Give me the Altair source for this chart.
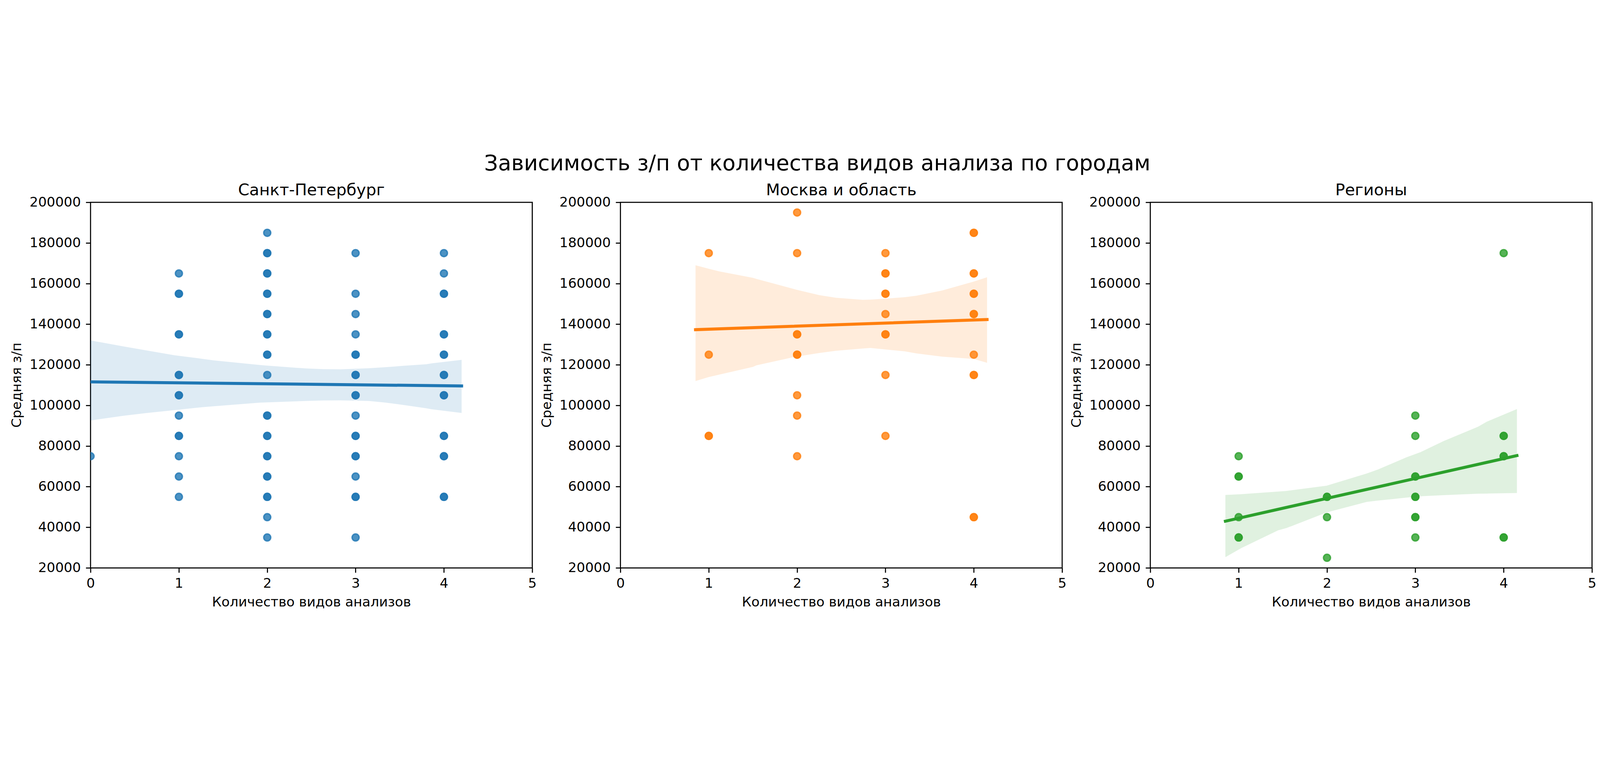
import altair as alt
import pandas as pd

FONT = "DejaVu Sans"
suptitle = "Зависимость з/п от количества видов анализа по городам"
cities = ["Санкт-Петербург", "Москва и область", "Регионы"]
colors = ["#1f77b4", "#ff7f0e", "#2ca02c"]
x_title = "Количество видов анализов"
y_title = "Средняя з/п"
x_ticks = [0, 1, 2, 3, 4, 5]
y_ticks = [20000, 40000, 60000, 80000, 100000, 120000, 140000, 160000, 180000, 200000]

# scatter points: x value, salary, number of overlapping observations
spb_x = [0] + [1] * 10 + [2] * 15 + [3] * 13 + [4] * 10
spb_y = [75000,
         165000, 155000, 135000, 115000, 105000, 95000, 85000, 75000, 65000, 55000,
         185000, 175000, 165000, 155000, 145000, 135000, 125000, 115000, 95000, 85000, 75000, 65000, 55000, 45000, 35000,
         175000, 155000, 145000, 135000, 125000, 115000, 105000, 95000, 85000, 75000, 65000, 55000, 35000,
         175000, 165000, 155000, 135000, 125000, 115000, 105000, 85000, 75000, 55000]
spb_n = [1,
         1, 2, 2, 2, 2, 1, 2, 1, 1, 1,
         1, 2, 2, 2, 2, 2, 2, 1, 2, 2, 2, 2, 2, 1, 1,
         1, 1, 1, 1, 2, 2, 2, 1, 2, 2, 1, 2, 1,
         1, 1, 2, 2, 2, 2, 2, 2, 2, 2]

msk_x = [1] * 3 + [2] * 7 + [3] * 7 + [4] * 7
msk_y = [175000, 125000, 85000,
         195000, 175000, 135000, 125000, 105000, 95000, 75000,
         175000, 165000, 155000, 145000, 135000, 115000, 85000,
         185000, 165000, 155000, 145000, 125000, 115000, 45000]
msk_n = [1, 1, 2,
         1, 1, 2, 2, 1, 1, 1,
         1, 2, 2, 1, 2, 1, 1,
         2, 2, 2, 2, 1, 2, 2]

reg_x = [1] * 4 + [2] * 3 + [3] * 6 + [4] * 4
reg_y = [75000, 65000, 45000, 35000,
         55000, 45000, 25000,
         95000, 85000, 65000, 55000, 45000, 35000,
         175000, 85000, 75000, 35000]
reg_n = [1, 2, 1, 2,
         2, 1, 1,
         1, 1, 2, 2, 2, 1,
         1, 2, 2, 2]

# fitted regression line
spb_fit_x = [0.0, 4.2]
spb_fit_y = [111600, 109600]
msk_fit_x = [0.85, 4.15]
msk_fit_y = [137300, 142300]
reg_fit_x = [0.85, 4.15]
reg_fit_y = [43000, 75300]

# confidence band
spb_band_x = [0.0, 0.37, 0.63, 0.95, 1.275, 1.40, 1.92, 1.985, 2.44, 2.63, 2.83, 3.15, 3.34, 3.54, 3.80, 3.86, 4.2]
spb_band_lo = [92600, 94900, 96250, 97700, 99170, 99600, 101390, 101500, 102200, 102440, 102500, 102230, 101400, 100230, 98600, 98130, 96300]
spb_band_hi = [132000, 129080, 127100, 124680, 122900, 122170, 119900, 119660, 118190, 117900, 117770, 118300, 118820, 119500, 120290, 120700, 122460]

msk_band_x = [0.85, 1.0, 1.12, 1.5, 1.54, 1.99, 2.25, 2.44, 2.74, 2.83, 3.06, 3.22, 3.35, 3.64, 4.0, 4.15]
msk_band_lo = [112000, 114000, 115200, 119000, 119770, 124050, 125800, 126900, 128000, 128330, 127300, 126610, 125600, 124050, 122900, 121000]
msk_band_hi = [169000, 167300, 166000, 162800, 162300, 157000, 154300, 153000, 152020, 152100, 152770, 153300, 154020, 156590, 161000, 163100]

reg_band_x = [0.85, 1.03, 1.447, 1.54, 1.996, 2.45, 2.58, 2.90, 3.06, 3.32, 3.71, 3.81, 4.15]
reg_band_lo = [25300, 29750, 38500, 39600, 47310, 52500, 53170, 54600, 55300, 55800, 56520, 56600, 56900]
reg_band_hi = [55930, 56300, 57590, 57900, 60460, 66470, 68500, 74460, 77000, 82440, 89500, 92010, 98240]

panels = [
    (spb_x, spb_y, spb_n, spb_fit_x, spb_fit_y, spb_band_x, spb_band_lo, spb_band_hi),
    (msk_x, msk_y, msk_n, msk_fit_x, msk_fit_y, msk_band_x, msk_band_lo, msk_band_hi),
    (reg_x, reg_y, reg_n, reg_fit_x, reg_fit_y, reg_band_x, reg_band_lo, reg_band_hi),
]

W, H = 1824, 1510
FS = 55.5

common_axis = dict(tickSize=19.4, tickWidth=4.4, labelFlush=False, labelOverlap=False,
                   labelLimit=1000,
                   grid=False, domain=False, tickColor="black", labelColor="black",
                   titleColor="black", labelFont=FONT, titleFont=FONT, labelFontSize=FS,
                   titleFontSize=FS, titleFontWeight="normal")
x_axis = alt.Axis(values=x_ticks, format="d", title=x_title,
                  labelPadding=18.3, titlePadding=21.5, **common_axis)
y_axis = alt.Axis(values=y_ticks, format="d", title=None,
                  labelPadding=21, **common_axis)
x_scale = alt.Scale(domain=[0, 5], nice=False, zero=False)
y_scale = alt.Scale(domain=[20000, 200000], nice=False, zero=False)


def make_panel(i, city, color, px, py, pn, fx, fy, bx, blo, bhi):
    rows = []
    for xv, yv, nv in zip(px, py, pn):
        for _ in range(nv):
            rows.append({"x": xv, "y": yv})
    pts = pd.DataFrame(rows)
    fit = pd.DataFrame({"x": fx, "y": fy})
    band = pd.DataFrame({"x": bx, "lo": blo, "hi": bhi})

    points = alt.Chart(pts).mark_point(
        filled=True, shape="circle", size=855, fill=color, stroke=color,
        strokeWidth=5.5, fillOpacity=0.8, strokeOpacity=0.8, opacity=1, clip=True
    ).encode(
        x=alt.X("x:Q", scale=x_scale, axis=x_axis),
        y=alt.Y("y:Q", scale=y_scale, axis=y_axis),
    )
    area = alt.Chart(band).mark_area(color=color, opacity=0.15, clip=True).encode(
        x=alt.X("x:Q", scale=x_scale, axis=x_axis),
        y=alt.Y("lo:Q", scale=y_scale, axis=y_axis),
        y2="hi:Q",
    )
    line = alt.Chart(fit).mark_line(color=color, strokeWidth=12.5, strokeCap="square", clip=True).encode(
        x=alt.X("x:Q", scale=x_scale, axis=x_axis),
        y=alt.Y("y:Q", scale=y_scale, axis=y_axis),
    )
    title = alt.Chart(pd.DataFrame({"t": [city]})).mark_text(
        font=FONT, fontSize=66.7, baseline="alphabetic", align="center", color="black"
    ).encode(text="t:N", x=alt.value(W / 2), y=alt.value(-30))
    ytitle = alt.Chart(pd.DataFrame({"t": [y_title]})).mark_text(
        font=FONT, fontSize=FS, baseline="alphabetic", align="center", angle=270, color="black"
    ).encode(text="t:N", x=alt.value(-286), y=alt.value(H / 2))
    layers = [points, area, line, title, ytitle]
    if i == 1:
        sup = alt.Chart(pd.DataFrame({"t": [suptitle]})).mark_text(
            font=FONT, fontSize=89, baseline="alphabetic", align="center", color="black"
        ).encode(text="t:N", x=alt.value(W / 2 - 99), y=alt.value(-132))
        layers.append(sup)
    return alt.layer(*layers).properties(width=W, height=H)


charts = [make_panel(i, c, col, *p) for i, (c, col, p) in enumerate(zip(cities, colors, panels))]

chart = alt.hconcat(
    *charts, spacing=364, bounds="flush",
    padding={"left": 28, "top": 29, "right": 0, "bottom": 0},
    background="white",
).configure_view(
    stroke="black", strokeWidth=4.4, fill="white"
)

chart.save("out.html", embed_options={"renderer": "svg", "actions": False})
